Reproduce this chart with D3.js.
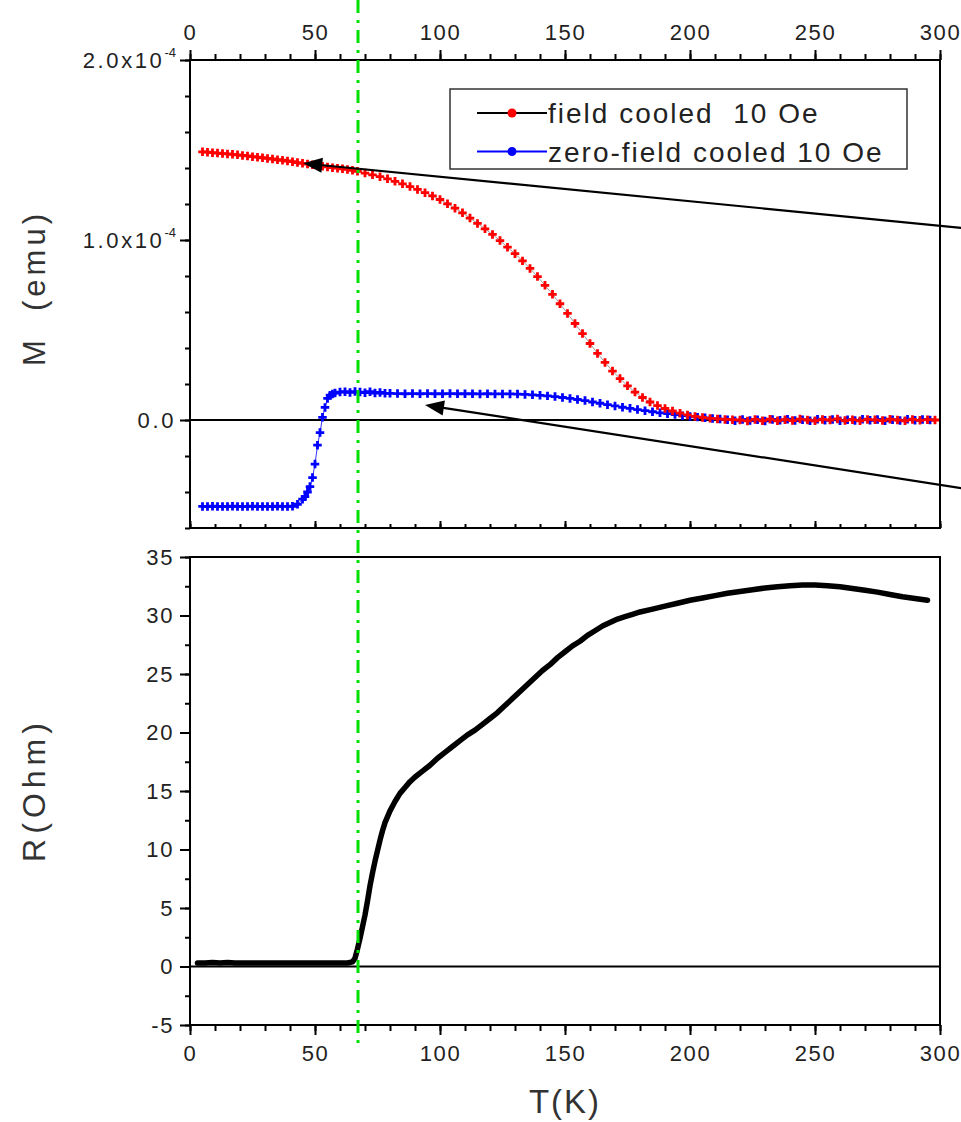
<!DOCTYPE html>
<html>
<head>
<meta charset="utf-8">
<script src="https://cdn.jsdelivr.net/npm/d3@7"></script>
<style>
  body { margin: 0; background: #fff; }
  text { font-family: "Liberation Sans", Arial, sans-serif; white-space: pre; }
</style>
</head>
<body>
<svg id="chart" width="961" height="1122"></svg>
<script>
// ---- Data -------------------------------------------------------------
// Magnetisation, field cooled in 10 Oe: [T (K), M (1e-4 emu)]
const fieldCooled = [
  [5,1.490],[7,1.488],[9,1.485],[11,1.483],[13,1.480],[15,1.478],[17,1.476],[19,1.473],
  [21,1.470],[23,1.467],[25,1.463],[27,1.460],[29,1.457],[31,1.453],[33,1.450],[35,1.446],
  [37,1.443],[39,1.439],[41,1.435],[43,1.430],[45,1.426],[47,1.422],[49,1.418],[51,1.414],
  [53,1.410],[55,1.406],[57,1.402],[59,1.399],[61,1.396],[63,1.392],[65,1.387],[67,1.382],
  [70,1.372],[73,1.362],[76,1.352],[79,1.340],[82,1.326],[85,1.312],[88,1.297],[91,1.281],
  [94,1.263],[97,1.245],[100,1.225],[103,1.201],[106,1.177],[109,1.151],[112,1.122],[115,1.092],
  [118,1.062],[121,1.031],[124,0.997],[127,0.960],[130,0.924],[133,0.884],[136,0.842],[139,0.797],
  [142,0.748],[145,0.698],[148,0.646],[151,0.592],[154,0.536],[157,0.480],[160,0.425],[163,0.370],
  [166,0.320],[169,0.272],[172,0.230],[175,0.190],[178,0.155],[181,0.125],[184,0.100],[187,0.080],
  [190,0.064],[193,0.050],[196,0.038],[199,0.028],[202,0.020],[205,0.014],[208,0.009],[211,0.006],
  [214,0.003],[217,0.002],[220,0.000],[223,-0.005],[226,0.003],[229,-0.004],[232,0.004],[235,-0.004],
  [238,0.002],[241,-0.003],[244,0.005],[247,0.000],[250,-0.004],[253,0.003],[256,0.000],[259,0.006],
  [262,-0.003],[265,0.002],[268,-0.004],[271,0.003],[274,0.001],[277,-0.003],[280,0.004],[283,0.000],
  [286,-0.004],[289,0.003],[292,-0.002],[295,0.002],[298,0.000]
];

// Magnetisation, zero-field cooled, measured in 10 Oe: [T (K), M (1e-4 emu)]
const zeroFieldCooled = [
  [5,-0.480],[7,-0.481],[9,-0.479],[11,-0.481],[13,-0.480],[15,-0.481],[17,-0.479],[19,-0.480],
  [21,-0.481],[23,-0.480],[25,-0.479],[27,-0.481],[29,-0.480],[31,-0.480],[33,-0.481],[35,-0.479],
  [37,-0.480],[39,-0.480],[41,-0.479],[43,-0.468],[45,-0.440],[46,-0.426],[47,-0.400],[48,-0.370],
  [49,-0.320],[50,-0.245],[51,-0.140],[52,-0.070],[53,0.015],[54,0.070],[55,0.120],[56,0.138],
  [57,0.145],[58,0.150],[60,0.155],[62,0.157],[64,0.153],[66,0.158],[68,0.155],[70,0.152],
  [72,0.157],[74,0.150],[76,0.153],[78,0.148],[80,0.148],[83,0.147],[86,0.146],[89,0.147],
  [92,0.146],[95,0.147],[98,0.146],[101,0.146],[104,0.147],[107,0.146],[110,0.146],[113,0.146],
  [116,0.145],[119,0.146],[122,0.145],[125,0.145],[128,0.145],[131,0.144],[134,0.142],[137,0.140],
  [140,0.137],[143,0.134],[146,0.130],[149,0.125],[152,0.120],[155,0.114],[158,0.108],[161,0.100],
  [164,0.093],[167,0.085],[170,0.078],[173,0.071],[176,0.065],[179,0.058],[182,0.052],[185,0.046],
  [188,0.040],[191,0.035],[194,0.030],[197,0.024],[200,0.020],[203,0.016],[206,0.012],[209,0.008],
  [212,0.005],[215,0.002],[218,-0.004],[221,0.003],[224,-0.003],[227,0.002],[230,-0.005],[233,0.003],
  [236,-0.002],[239,0.004],[242,-0.003],[245,0.002],[248,-0.004],[251,0.004],[254,-0.002],[257,0.003],
  [260,-0.004],[263,0.002],[266,-0.003],[269,0.004],[272,-0.002],[275,0.003],[278,-0.004],[281,0.002],
  [284,-0.003],[287,0.004],[290,-0.002],[293,0.003],[296,0.000]
];

// Resistance: [T (K), R (Ohm)]
const resistance = [
  [3,0.3],[6,0.3],[9,0.35],[12,0.3],[15,0.35],[18,0.3],[21,0.3],[24,0.3],[27,0.3],[30,0.3],
  [33,0.3],[36,0.3],[39,0.3],[42,0.3],[45,0.3],[48,0.3],[51,0.3],[54,0.3],[57,0.3],[60,0.3],
  [63,0.3],[65,0.4],[66,0.7],[67,1.5],[68,2.4],[69,3.4],[70,4.4],[71,5.6],[72,6.9],[73,8.0],
  [74,9.0],[75,9.9],[76,10.8],[77,11.6],[78,12.3],[80,13.3],[82,14.1],[84,14.8],[86,15.3],[88,15.8],
  [90,16.2],[93,16.7],[96,17.2],[99,17.8],[102,18.3],[105,18.8],[108,19.3],[111,19.8],[114,20.2],
  [117,20.7],[120,21.2],[123,21.7],[126,22.3],[129,22.9],[132,23.5],[135,24.1],[138,24.7],[141,25.3],
  [144,25.8],[147,26.4],[150,26.9],[153,27.4],[156,27.8],[159,28.3],[162,28.7],[165,29.1],[168,29.4],
  [171,29.7],[174,29.9],[177,30.1],[180,30.3],[185,30.55],[190,30.8],[195,31.05],[200,31.3],[205,31.5],
  [210,31.7],[215,31.9],[220,32.05],[225,32.2],[230,32.35],[235,32.45],[240,32.55],[245,32.6],[250,32.6],
  [255,32.55],[260,32.45],[265,32.3],[270,32.15],[275,32.0],[280,31.8],[285,31.6],[290,31.45],[295,31.3]
];

// Axis ticks
const tTicks = [0, 50, 100, 150, 200, 250, 300];
const tMinor = d3.range(0, 301, 10);
const mTicks = [0.0, 1.0, 2.0];
const mTickLabels = ["0.0", "1.0x10", "2.0x10"];
const mTickExp = ["", "-4", "-4"];
const mMinor = d3.range(-0.6, 2.001, 0.2);
const rTicks = [-5, 0, 5, 10, 15, 20, 25, 30, 35];
const rMinor = d3.range(-5, 35.01, 2.5);

// Transition temperature marker and annotation arrows (data coordinates)
const tcMarker = 67.2;
const arrowFC = { from: [314, 1.06], to: [45.3, 1.426] };
const arrowZFC = { from: [314, -0.39], to: [94, 0.083] };

// Legend entries
const legendEntries = [
  { label: "field cooled  10 Oe", line: "#000", marker: "#ff0000" },
  { label: "zero-field cooled 10 Oe", line: "#0000ff", marker: "#0000ff" }
];

// ---- Layout -------------------------------------------------------------
const svg = d3.select("#chart");
const X0 = 190, X1 = 940;
const topBox = { y0: 60, y1: 528 };
const botBox = { y0: 557, y1: 1025 };

const x = d3.scaleLinear().domain([0, 300]).range([X0, X1]);
const yM = d3.scaleLinear().domain([-0.6, 2.0]).range([topBox.y1, topBox.y0]);
const yR = d3.scaleLinear().domain([-5, 35]).range([botBox.y1, botBox.y0]);

const tickFont = { size: 22, spacing: 1.6, color: "#222" };
const intFmt = d => String(d); // plain hyphen for negatives

function styleAxis(g) {
  g.select(".domain").remove();
  g.selectAll(".tick line").attr("stroke", "#000").attr("stroke-width", 2);
  g.selectAll(".tick text")
    .attr("fill", tickFont.color)
    .style("font-size", tickFont.size + "px")
    .style("letter-spacing", tickFont.spacing + "px");
}

// ---- Top panel: magnetisation -----------------------------------------
svg.append("g").attr("transform", `translate(0,${topBox.y0})`)
  .call(d3.axisTop(x).tickValues(tMinor).tickSize(6).tickFormat("")).call(styleAxis);
svg.append("g").attr("transform", `translate(0,${topBox.y0})`)
  .call(d3.axisTop(x).tickValues(tTicks).tickSize(10).tickPadding(10).tickFormat(intFmt))
  .call(styleAxis);
svg.append("g").attr("transform", `translate(0,${topBox.y1})`)
  .call(d3.axisTop(x).tickValues(tMinor).tickSize(4).tickFormat("")).call(styleAxis);
svg.append("g").attr("transform", `translate(0,${topBox.y1})`)
  .call(d3.axisTop(x).tickValues(tTicks).tickSize(7).tickFormat("")).call(styleAxis);
svg.append("g").attr("transform", `translate(${X0},0)`)
  .call(d3.axisLeft(yM).tickValues(mMinor).tickSize(5).tickFormat("")).call(styleAxis);
const mAxis = svg.append("g").attr("transform", `translate(${X0},0)`)
  .call(d3.axisLeft(yM).tickValues(mTicks).tickSize(10).tickFormat("")).call(styleAxis);
mAxis.selectAll(".tick").each(function(d, i) {
  const t = d3.select(this).append("text")
    .attr("x", -14).attr("dy", "0.36em")
    .attr("text-anchor", "end")
    .attr("fill", tickFont.color)
    .style("font-size", tickFont.size + "px")
    .style("letter-spacing", "2.6px");
  t.append("tspan").text(mTickLabels[i]);
  if (mTickExp[i]) {
    t.append("tspan").attr("dy", -11).style("font-size", "13px")
      .style("letter-spacing", "0px").text(mTickExp[i]);
  }
});

svg.append("line")
  .attr("x1", X0).attr("x2", X1).attr("y1", yM(0)).attr("y2", yM(0))
  .attr("stroke", "#000").attr("stroke-width", 2);

const cross = d3.symbol(d3.symbolCross, 40);
const mLine = d3.line().x(d => x(d[0])).y(d => yM(d[1]));

// zero-field cooled series
svg.append("path").datum(zeroFieldCooled)
  .attr("d", mLine).attr("fill", "none").attr("stroke", "#0000ff").attr("stroke-width", 0.8);
svg.append("g").selectAll("path").data(zeroFieldCooled).join("path")
  .attr("d", cross).attr("fill", "#0000ff")
  .attr("transform", d => `translate(${x(d[0])},${yM(d[1])})`);

// field cooled series
svg.append("path").datum(fieldCooled)
  .attr("d", mLine).attr("fill", "none").attr("stroke", "#555").attr("stroke-width", 0.6);
svg.append("g").selectAll("path").data(fieldCooled).join("path")
  .attr("d", cross).attr("fill", "#ff0000")
  .attr("transform", d => `translate(${x(d[0])},${yM(d[1])})`);

svg.append("rect")
  .attr("x", X0).attr("y", topBox.y0).attr("width", X1 - X0).attr("height", topBox.y1 - topBox.y0)
  .attr("fill", "none").attr("stroke", "#000").attr("stroke-width", 2);

// legend
const legend = svg.append("g");
legend.append("rect")
  .attr("x", 450).attr("y", 89).attr("width", 457).attr("height", 80)
  .attr("fill", "#fff").attr("stroke", "#333").attr("stroke-width", 1.5);
legendEntries.forEach((e, i) => {
  const cy = 113 + i * 38.5;
  legend.append("line").attr("x1", 477).attr("x2", 547).attr("y1", cy).attr("y2", cy)
    .attr("stroke", e.line).attr("stroke-width", 2);
  legend.append("circle").attr("cx", 512).attr("cy", cy).attr("r", 4.5).attr("fill", e.marker);
  legend.append("text").attr("x", 548).attr("y", cy + 10)
    .attr("fill", "#222")
    .style("font-size", "28px").style("letter-spacing", "2px")
    .text(e.label);
});

// ---- Bottom panel: resistance -----------------------------------------
svg.append("g").attr("transform", `translate(0,${botBox.y1})`)
  .call(d3.axisBottom(x).tickValues(tMinor).tickSize(6).tickFormat("")).call(styleAxis);
svg.append("g").attr("transform", `translate(0,${botBox.y1})`)
  .call(d3.axisBottom(x).tickValues(tTicks).tickSize(10).tickPadding(10).tickFormat(intFmt))
  .call(styleAxis);
svg.append("g").attr("transform", `translate(${X0},0)`)
  .call(d3.axisLeft(yR).tickValues(rMinor).tickSize(5).tickFormat("")).call(styleAxis);
svg.append("g").attr("transform", `translate(${X0},0)`)
  .call(d3.axisLeft(yR).tickValues(rTicks).tickSize(10).tickPadding(6).tickFormat(intFmt))
  .call(styleAxis);

svg.append("line")
  .attr("x1", X0).attr("x2", X1).attr("y1", yR(0)).attr("y2", yR(0))
  .attr("stroke", "#000").attr("stroke-width", 2);

const rLine = d3.line().x(d => x(d[0])).y(d => yR(d[1]));
svg.append("path").datum(resistance)
  .attr("d", rLine).attr("fill", "none").attr("stroke", "#000")
  .attr("stroke-width", 5.5).attr("stroke-linejoin", "round").attr("stroke-linecap", "round");

svg.append("rect")
  .attr("x", X0).attr("y", botBox.y0).attr("width", X1 - X0).attr("height", botBox.y1 - botBox.y0)
  .attr("fill", "none").attr("stroke", "#000").attr("stroke-width", 2);

// ---- Axis titles --------------------------------------------------------
svg.append("text")
  .attr("transform", "translate(45,288) rotate(-90)")
  .attr("text-anchor", "middle").attr("fill", "#333")
  .style("font-size", "31px").style("letter-spacing", "4px")
  .text("M  (emu)");
svg.append("text")
  .attr("transform", "translate(45,790) rotate(-90)")
  .attr("text-anchor", "middle").attr("fill", "#333")
  .style("font-size", "32px").style("letter-spacing", "5px")
  .text("R(Ohm)");
svg.append("text")
  .attr("x", (X0 + X1) / 2).attr("y", 1113)
  .attr("text-anchor", "middle").attr("fill", "#333")
  .style("font-size", "33px").style("letter-spacing", "2px")
  .text("T(K)");

// ---- Tc marker (green dash-dot) ----------------------------------------
svg.append("line")
  .attr("x1", x(tcMarker)).attr("x2", x(tcMarker)).attr("y1", 0).attr("y2", 1045)
  .attr("stroke", "#00e000").attr("stroke-width", 3)
  .attr("stroke-dasharray", "13,7,3,7");

// ---- Annotation arrows -------------------------------------------------
function arrow(a) {
  const p = [x(a.to[0]), yM(a.to[1])];
  const q = [x(a.from[0]), yM(a.from[1])];
  const dx = p[0] - q[0], dy = p[1] - q[1];
  const len = Math.hypot(dx, dy);
  const ux = dx / len, uy = dy / len;
  const L = 19, w = 15;
  const bx = p[0] - ux * L, by = p[1] - uy * L;
  svg.append("line").attr("x1", q[0]).attr("y1", q[1]).attr("x2", bx + ux * 2).attr("y2", by + uy * 2)
    .attr("stroke", "#000").attr("stroke-width", 2.2);
  svg.append("path")
    .attr("d", `M${p[0]},${p[1]}L${bx - uy * w / 2},${by + ux * w / 2}L${bx + uy * w / 2},${by - ux * w / 2}Z`)
    .attr("fill", "#000");
}
arrow(arrowFC);
arrow(arrowZFC);
</script>
</body>
</html>
